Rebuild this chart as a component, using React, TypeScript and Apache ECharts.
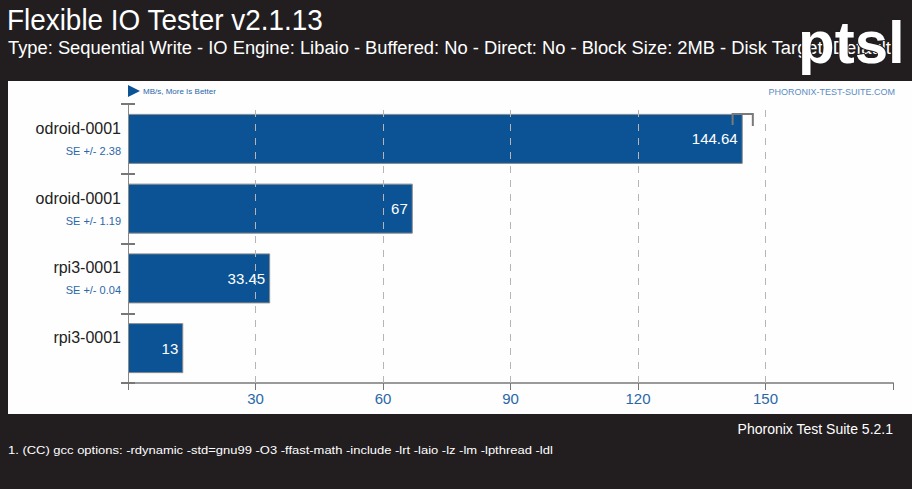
import React, { useEffect, useRef } from "react";
import * as echarts from "echarts";

const categories = ["odroid-0001", "odroid-0001", "rpi3-0001", "rpi3-0001"];
const values = [144.64, 67, 33.45, 13];
const seValues = [2.38, 1.19, 0.04, null];
const valueLabels = ["144.64", "67", "33.45", "13"];
const gridValues = [30, 60, 90, 120, 150];
const axisMax = 180;

const TITLE = "Flexible IO Tester v2.1.13";
const SUBTITLE =
  "Type: Sequential Write - IO Engine: Libaio - Buffered: No - Direct: No - Block Size: 2MB - Disk Target: Default";
const FOOT1 = "Phoronix Test Suite 5.2.1";
const FOOT2 =
  "1. (CC) gcc options: -rdynamic -std=gnu99 -O3 -ffast-math -include -lrt -laio -lz -lm -lpthread -ldl";

const DARK = "#221e1f";
const BAR = "#0b5394";
const BLUE = "#2a67a8";
const FONT = "'Liberation Sans', Arial, sans-serif";

export default function App() {
  const ref = useRef<HTMLDivElement>(null);
  useEffect(() => {
    document.body.style.margin = "0";
    const chart = echarts.init(ref.current!, null, { renderer: "svg" });
    const revCats = categories.slice().reverse();
    const n = categories.length;
    const rev = (i: number) => n - 1 - i;
    const barData = values.map((v, i) => ({ value: v, label: valueLabels[i] })).reverse();
    const errData = values
      .map((v, i) => (seValues[i] == null ? null : [v, rev(i), seValues[i]]))
      .filter((d) => d !== null) as number[][];
    const seRev = seValues.slice().reverse();

    chart.setOption({
      animation: false,
      backgroundColor: DARK,
      textStyle: { fontFamily: FONT },
      grid: { left: 128, right: 19, top: 104, bottom: 106, containLabel: false },
      xAxis: {
        type: "value",
        min: 0,
        max: axisMax,
        interval: 30,
        axisLine: { show: true, lineStyle: { color: "#9a9a9a", width: 2 } },
        axisTick: { show: true, length: 7, lineStyle: { color: "#777", width: 1 } },
        splitLine: { show: false },
        axisLabel: {
          color: BLUE,
          fontSize: 15,
          fontFamily: FONT,
          margin: 8,
          formatter: (v: number) => (v === 0 || v >= axisMax ? "" : String(v)),
        },
      },
      yAxis: [
        {
          type: "category",
          data: revCats,
          axisLine: { show: true, lineStyle: { color: "#888", width: 1 } },
          axisTick: { show: true, length: 7, lineStyle: { color: "#777", width: 2 } },
          axisLabel: {
            margin: 7,
            align: "right",
            formatter: (val: string, idx: number) => {
              const se = seRev[idx];
              return `{n|${val}}\n{s|${se == null ? " " : "SE +/- " + se.toFixed(2)}}`;
            },
            rich: {
              n: { fontSize: 16, color: "#222", fontFamily: FONT, lineHeight: 24, align: "right" },
              s: { fontSize: 11, color: BLUE, fontFamily: FONT, lineHeight: 21, align: "right" },
            },
          },
        },
        {
          type: "category",
          data: revCats,
          position: "left",
          axisLine: { show: false },
          axisTick: { show: true, inside: true, length: 7, lineStyle: { color: "#777", width: 2 } },
          axisLabel: { show: false },
        },
      ],
      series: [
        {
          type: "line",
          data: [],
          z: 1,
          markLine: {
            silent: true,
            symbol: "none",
            label: { show: false },
            lineStyle: { color: "#b5b5b5", type: [7, 7], width: 1 },
            data: gridValues.map((g) => ({ xAxis: g })),
          },
        },
        {
          type: "bar",
          z: 3,
          barWidth: 50,
          data: barData.map((d) => d.value),
          itemStyle: { color: BAR, borderColor: "#8a8a8a", borderWidth: 1 },
          label: {
            show: true,
            position: "insideRight",
            distance: 5,
            color: "#fff",
            fontSize: 15,
            fontFamily: FONT,
            formatter: (p: any) => barData[p.dataIndex].label,
          },
        },
        {
          type: "custom",
          z: 4,
          data: errData,
          encode: { x: 0, y: 1 },
          renderItem: (params: any, api: any) => {
            const v = api.value(0);
            const c = api.value(1);
            const se = api.value(2);
            const lo = api.coord([v - se, c]);
            const hi = api.coord([v + se, c]);
            if (hi[0] - lo[0] < 14) return null;
            const top = lo[1] - 25;
            return {
              type: "polyline",
              shape: {
                points: [
                  [lo[0], top + 11],
                  [lo[0], top],
                  [hi[0], top],
                  [hi[0], top + 12],
                ],
              },
              style: { stroke: "#7a7a7a", lineWidth: 2, fill: null },
            };
          },
        },
      ],
      graphic: [
        { type: "rect", z: -100, silent: true, shape: { x: 8, y: 81, width: 904, height: 333 }, style: { fill: "#fefefe" } },
        { type: "text", z: 100, x: 7, y: 5, scaleX: 0.93, style: { text: TITLE, fill: "#fff", fontSize: 30, fontFamily: FONT } },
        { type: "text", z: 100, x: 8, y: 38, scaleX: 0.965, style: { text: SUBTITLE, fill: "#fff", fontSize: 19, fontFamily: FONT } },
        {
          type: "text",
          z: 101,
          x: 798,
          y: 12,
          style: { text: "ptsl", fill: "#fff", stroke: DARK, lineWidth: 2, fontSize: 60, fontWeight: "bold", fontFamily: FONT },
        },
        { type: "polygon", z: 100, shape: { points: [[128, 85], [128, 97], [140, 91]] }, style: { fill: BAR } },
        { type: "text", z: 100, x: 143, y: 87, style: { text: "MB/s, More Is Better", fill: BLUE, fontSize: 8, fontFamily: FONT } },
        {
          type: "text",
          z: 100,
          x: 895,
          y: 87,
          style: { text: "PHORONIX-TEST-SUITE.COM", fill: "#5a8cc0", fontSize: 9, fontFamily: FONT, align: "right" },
        },
        {
          type: "text",
          z: 100,
          x: 893,
          y: 422,
          style: { text: FOOT1, fill: "#fff", fontSize: 14, fontFamily: FONT, align: "right" },
        },
        {
          type: "text",
          z: 100,
          x: 8,
          y: 445,
          scaleX: 1.18,
          style: { text: FOOT2, fill: "#fff", fontSize: 11, fontFamily: FONT },
        },
      ],
    });
    return () => chart.dispose();
  }, []);
  return <div ref={ref} style={{ position: "absolute", left: 0, top: 0, width: 912, height: 489 }} />;
}
